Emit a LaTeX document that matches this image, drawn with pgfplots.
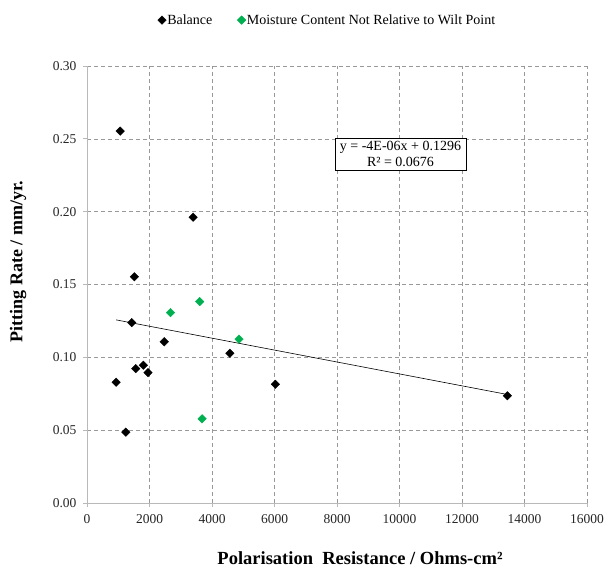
\documentclass[border=0pt]{standalone}
\usepackage{fontspec}
\setmainfont{Liberation Serif}
\usepackage{pgfplots}
\pgfplotsset{compat=1.18}
\definecolor{mgreen}{RGB}{0,176,80}
\begin{document}
\begin{tikzpicture}
\begin{axis}[
  at={(0,0)}, anchor=south west,
  width=500bp, height=437bp, scale only axis,
  xmin=0, xmax=16000, ymin=0, ymax=0.3,
  xtick={0,2000,4000,6000,8000,10000,12000,14000,16000},
  ytick={0,0.05,0.10,0.15,0.20,0.25,0.30},
  scaled ticks=false,
  /pgf/number format/assume math mode=true,
  xticklabel style={/pgf/number format/.cd, 1000 sep={}, /tikz/.cd, yshift=-4bp},
  yticklabel style={/pgf/number format/.cd, fixed, fixed zerofill, precision=2, /tikz/.cd, xshift=-3bp},
  tick label style={font=\fontsize{13.5bp}{15bp}\selectfont, text=black!85},
  grid=major,
  major grid style={dash pattern=on 4bp off 3bp, gray!80, line width=0.6pt},
  axis x line*=bottom, axis y line*=left,
  axis line style={gray!55, line width=0.8pt, -},
  tick style={gray!55, line width=0.8pt},
  tick align=outside, major tick length=4bp,
  legend columns=2,
  legend style={draw=none, fill=none, at={(0.48,1.105)}, anchor=center,
    font=\fontsize{14bp}{16bp}\selectfont,
    /tikz/every even column/.append style={column sep=24bp},
    nodes={inner xsep=1bp}},
  legend image code/.code={\draw[#1] plot coordinates {(0.18cm,0cm)};},
  legend cell align=left,
]
\addplot[only marks, mark=square*, mark size=3bp, black, mark options={fill=black, rotate=45}] coordinates {
(1061,0.2553) (3395,0.1962) (1517,0.1553) (1432,0.1238) (2472,0.1107)
(4570,0.1028) (1560,0.0923) (1804,0.0946) (1952,0.0895) (934,0.0829)
(6030,0.0815) (1241,0.0486) (13450,0.0736)
};
\addlegendentry{Balance}
\addplot[only marks, mark=square*, mark size=3bp, mgreen, mark options={fill=mgreen, rotate=45}] coordinates {
(2674,0.1307) (3607,0.1383) (4866,0.1125) (3682,0.0578)
};
\addlegendentry{Moisture Content Not Relative to Wilt Point}
\addplot[black, line width=0.6pt, no markers, forget plot] coordinates {(934,0.1257) (13450,0.0745)};
\node[draw=black, line width=0.8pt, fill=white, align=center, inner ysep=3.5bp,
  font=\fontsize{14bp}{15.5bp}\selectfont, minimum width=131bp]
  at (axis cs:10032,0.2396) {y = -4E-06x + 0.1296\\R² = 0.0676};
\end{axis}
\node[font=\bfseries\fontsize{18.5bp}{20bp}\selectfont] at (273bp,-55bp) {Polarisation\ \ Resistance / Ohms-cm²};
\node[font=\bfseries\fontsize{18bp}{20bp}\selectfont, rotate=90] at (-69bp,241.5bp) {Pitting Rate / mm/yr.};
\pgfresetboundingbox
\useasboundingbox (-87bp,-67bp) rectangle (519bp,503bp);
\end{tikzpicture}
\end{document}
